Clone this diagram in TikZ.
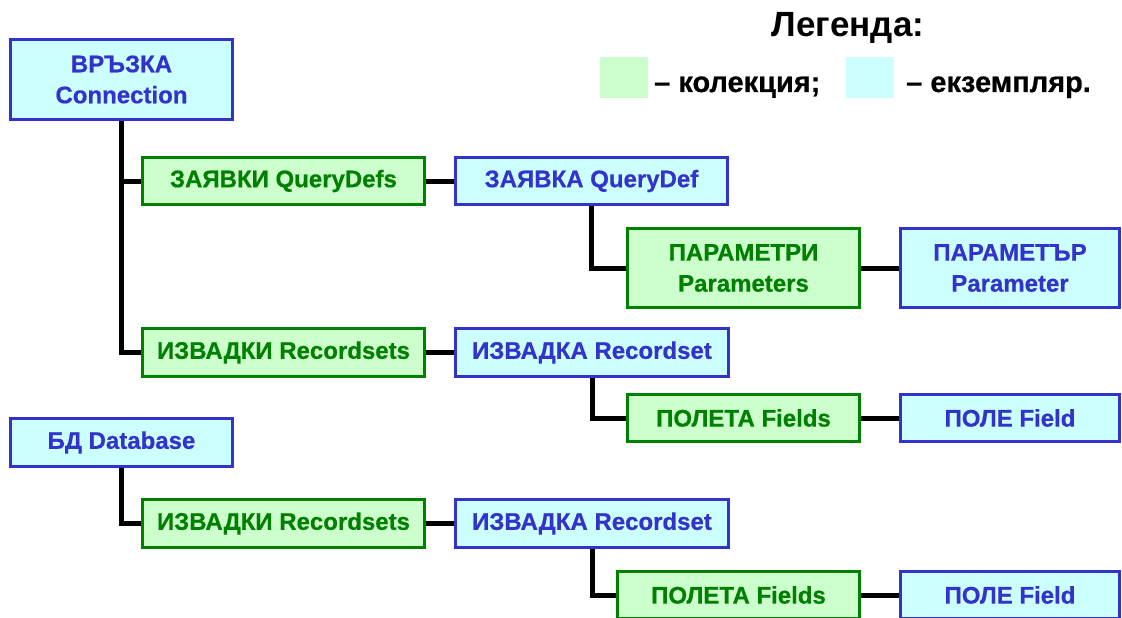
\documentclass[tikz,border=0pt]{standalone}
\usepackage{fontspec}
\setmainfont{Liberation Sans}[BoldFeatures={FakeBold=0.6}]
\newfontfamily\headfont{Liberation Sans}
\usetikzlibrary{backgrounds}

\definecolor{instfill}{HTML}{CCFFFF}
\definecolor{instline}{HTML}{3333CC}
\definecolor{collfill}{HTML}{CCFFCC}
\definecolor{collline}{HTML}{008000}

\tikzset{
  box/.style={rectangle, line width=3pt, inner sep=0pt, align=center,
    font=\bfseries\fontsize{24}{31}\selectfont},
  inst/.style={box, draw=instline, fill=instfill, text=instline},
  coll/.style={box, draw=collline, fill=collfill, text=collline},
  link/.style={line width=5pt, black},
  sz/.style 2 args={minimum width=#1 pt, minimum height=#2 pt},
  legtext/.style={anchor=base west, inner sep=0pt, font=\bfseries\fontsize{29}{32}\selectfont},
}

\begin{document}
\begin{tikzpicture}[x=1pt, y=-1pt]
\useasboundingbox (0,0) rectangle (1122,618);

% legend
\node[anchor=base, font=\headfont\bfseries\fontsize{35}{40}\selectfont] (legtitle) at (848,37) {Легенда:};
\fill[collfill] (600,57) rectangle (648,98);
\node[legtext] (legcoll) at (654,92) {– колекция;};
\fill[instfill] (846,57) rectangle (894,98);
\node[legtext] (leginst) at (906,92) {– екземпляр.};

% Connection tree
\node[inst, sz={222}{80}] (conn)    at (121.5,79.5) {ВРЪЗКА\\Connection};
\node[coll, sz={282}{47}] (qdefs)   at (283.5,181)  {ЗАЯВКИ QueryDefs};
\node[inst, sz={272}{47}] (qdef)    at (591.5,181)  {ЗАЯВКА QueryDef};
\node[coll, sz={232}{79}] (params)  at (743.5,268)  {ПАРАМЕТРИ\\Parameters};
\node[inst, sz={219}{79}] (param)   at (1010,268)   {ПАРАМЕТЪР\\Parameter};
\node[coll, sz={282}{48}] (rsetsA)  at (283.5,352.5) {ИЗВАДКИ Recordsets};
\node[inst, sz={273}{48}] (rsetA)   at (592,352.5)  {ИЗВАДКА Recordset};
\node[coll, sz={232}{47}] (fieldsA) at (743.5,418)  {ПОЛЕТА Fields};
\node[inst, sz={219}{47}] (fieldA)  at (1010,418)   {ПОЛЕ Field};

% Database tree
\node[inst, sz={222}{48}] (db)      at (121.5,442.5) {БД Database};
\node[coll, sz={282}{48}] (rsetsB)  at (283.5,523.5) {ИЗВАДКИ Recordsets};
\node[inst, sz={273}{48}] (rsetB)   at (592,523.5)  {ИЗВАДКА Recordset};
\node[coll, sz={242}{47}] (fieldsB) at (738.5,595)  {ПОЛЕТА Fields};
\node[inst, sz={219}{47}] (fieldB)  at (1010,595)   {ПОЛЕ Field};

\begin{scope}[on background layer]
  \fill[white] (0,0) rectangle (1122,618);
  \draw[link] (conn.south) |- (qdefs.west);
  \draw[link] (conn.south) |- (rsetsA.west);
  \draw[link] (qdefs.east) -- (qdef.west);
  \draw[link] (qdef.south) |- (params.west);
  \draw[link] (params.east) -- (param.west);
  \draw[link] (rsetsA.east) -- (rsetA.west);
  \draw[link] (rsetA.south) |- (fieldsA.west);
  \draw[link] (fieldsA.east) -- (fieldA.west);
  \draw[link] (db.south) |- (rsetsB.west);
  \draw[link] (rsetsB.east) -- (rsetB.west);
  \draw[link] (rsetB.south) |- (fieldsB.west);
  \draw[link] (fieldsB.east) -- (fieldB.west);
\end{scope}
\end{tikzpicture}
\end{document}
